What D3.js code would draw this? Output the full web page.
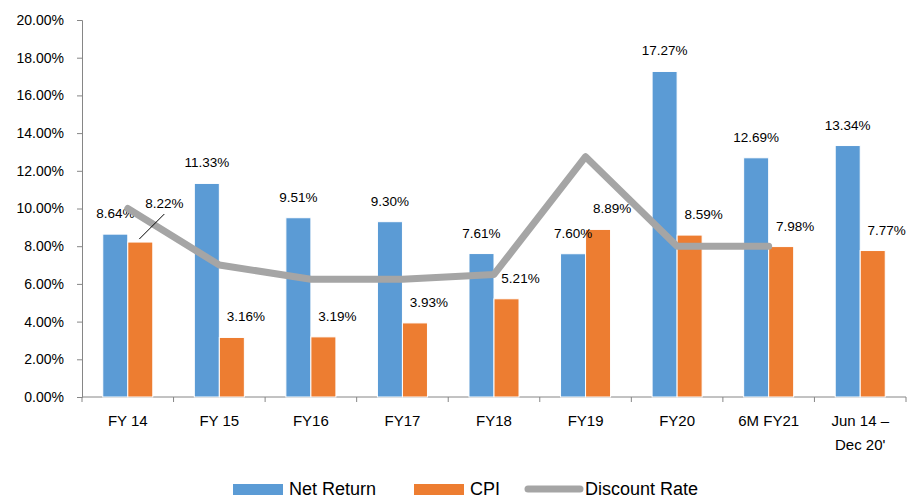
<!DOCTYPE html>
<html>
<head>
<meta charset="utf-8">
<script src="https://cdn.jsdelivr.net/npm/d3@7"></script>
<style>
  body { margin: 0; background: #fff; }
  svg { font-family: 'Liberation Sans', Arial, sans-serif; }
</style>
</head>
<body>
<div id="chart"></div>
<script>
// chart data
const categories = ['FY 14', 'FY 15', 'FY16', 'FY17', 'FY18', 'FY19', 'FY20', '6M FY21', 'Jun 14 –\nDec 20\''];
const netReturn = [8.64, 11.33, 9.51, 9.30, 7.61, 7.60, 17.27, 12.69, 13.34];
const cpi = [8.22, 3.16, 3.19, 3.93, 5.21, 8.89, 8.59, 7.98, 7.77];
const discountRate = [10.0, 7.0, 6.25, 6.25, 6.5, 12.75, 8.0, 8.0];
const yTicks = [0, 2, 4, 6, 8, 10, 12, 14, 16, 18, 20];
const seriesNames = ['Net Return', 'CPI', 'Discount Rate'];

const colors = {'Net Return': '#5B9BD5', 'CPI': '#ED7D31', 'Discount Rate': '#A5A5A5'};

const outerWidth = 916, outerHeight = 499;
const margin = {top: 20, right: 10, bottom: 102, left: 82};
const width = outerWidth - margin.left - margin.right;
const height = outerHeight - margin.top - margin.bottom;

const svg = d3.select('#chart')
  .append('svg')
  .attr('width', outerWidth)
  .attr('height', outerHeight);

const g = svg.append('g')
  .attr('transform', 'translate(' + margin.left + ',' + margin.top + ')');

const x0 = d3.scaleBand()
  .domain(categories)
  .range([0, width])
  .padding(0);

const x1 = d3.scaleBand()
  .domain(['Net Return', 'CPI'])
  .range([0, x0.bandwidth()])
  .paddingInner(0)
  .paddingOuter(0.83);

const y = d3.scaleLinear()
  .domain([0, 20])
  .range([height, 0]);

// y axis
const yAxis = g.append('g')
  .call(d3.axisLeft(y).tickValues(yTicks).tickSize(5).tickFormat(d => d.toFixed(2) + '%'));
yAxis.select('.domain').attr('stroke', '#868686');
yAxis.selectAll('.tick line').attr('stroke', '#868686');
yAxis.selectAll('.tick text')
  .attr('x', -18)
  .attr('font-size', '14px')
  .attr('fill', '#000')
  .attr('font-family', 'Liberation Sans, Arial, sans-serif');

// x axis, ticks at category boundaries
const xAxis = g.append('g')
  .attr('transform', 'translate(0,' + height + ')');
xAxis.append('line')
  .attr('x1', 0).attr('x2', width)
  .attr('stroke', '#868686');
xAxis.selectAll('.xtick')
  .data(d3.range(categories.length + 1))
  .enter()
  .append('line')
  .attr('x1', i => i * x0.step())
  .attr('x2', i => i * x0.step())
  .attr('y1', 0).attr('y2', 5)
  .attr('stroke', '#868686');
xAxis.selectAll('.xlabel')
  .data(categories)
  .enter()
  .append('text')
  .attr('text-anchor', 'middle')
  .attr('font-size', '15px')
  .attr('fill', '#000')
  .each(function(d) {
    const lines = d.split('\n');
    const t = d3.select(this);
    lines.forEach((line, i) => {
      t.append('tspan')
        .attr('x', x0(d) + x0.bandwidth() / 2)
        .attr('y', 29 + i * 24)
        .text(line);
    });
  });

// bars
const barData = categories.map((c, i) => ({
  category: c,
  values: [
    {key: 'Net Return', value: netReturn[i]},
    {key: 'CPI', value: cpi[i]}
  ]
}));

const groups = g.append('g')
  .selectAll('g')
  .data(barData)
  .enter()
  .append('g')
  .attr('transform', d => 'translate(' + x0(d.category) + ',0)');

groups.selectAll('rect')
  .data(d => d.values)
  .enter()
  .append('rect')
  .attr('x', d => x1(d.key))
  .attr('y', d => y(d.value))
  .attr('width', x1.bandwidth())
  .attr('height', d => height - y(d.value))
  .attr('fill', d => colors[d.key])
  .attr('stroke', '#fff')
  .attr('stroke-width', 1);

// discount rate line
const line = d3.line()
  .x((d, i) => x0(categories[i]) + x0.bandwidth() / 2)
  .y(d => y(d));

g.append('path')
  .datum(discountRate)
  .attr('fill', 'none')
  .attr('stroke', colors['Discount Rate'])
  .attr('stroke-width', 7)
  .attr('stroke-linejoin', 'round')
  .attr('stroke-linecap', 'round')
  .attr('d', line);

// data labels
groups.selectAll('text.label')
  .data(d => d.values.map(v => Object.assign({category: d.category}, v)))
  .enter()
  .append('text')
  .attr('class', 'label')
  .attr('text-anchor', 'middle')
  .attr('font-size', '13.5px')
  .attr('fill', '#000')
  .attr('x', d => {
    const cx = x1(d.key) + x1.bandwidth() / 2;
    if (d.category === categories[0]) return d.key === 'CPI' ? cx + 24 : cx;
    return d.key === 'CPI' ? cx + 14 : cx;
  })
  .attr('y', d => {
    const top = y(d.value);
    if (d.category === categories[0] && d.key === 'CPI') return top - 34;
    return top - 16;
  })
  .text(d => d.value.toFixed(2) + '%');

// leader line for first CPI label
const firstCpiX = x0(categories[0]) + x1('CPI') + x1.bandwidth() / 2;
g.append('line')
  .attr('x1', firstCpiX - 1)
  .attr('y1', y(cpi[0]) - 3)
  .attr('x2', firstCpiX + 24)
  .attr('y2', y(cpi[0]) - 28)
  .attr('stroke', '#000')
  .attr('stroke-width', 1);

// legend
const legend = svg.append('g')
  .attr('transform', 'translate(0,' + 489 + ')');
const legendItems = [
  {name: seriesNames[0], x: 233, type: 'rect'},
  {name: seriesNames[1], x: 414, type: 'rect'},
  {name: seriesNames[2], x: 525, type: 'line'}
];
legendItems.forEach(item => {
  if (item.type === 'rect') {
    legend.append('rect')
      .attr('x', item.x).attr('y', -5)
      .attr('width', 50).attr('height', 11)
      .attr('fill', colors[item.name]);
  } else {
    legend.append('line')
      .attr('x1', item.x + 3).attr('x2', item.x + 55)
      .attr('y1', 0).attr('y2', 0)
      .attr('stroke', colors[item.name])
      .attr('stroke-width', 7)
      .attr('stroke-linecap', 'round');
  }
  legend.append('text')
    .attr('x', item.x + (item.type === 'rect' ? 56 : 60))
    .attr('y', 6)
    .attr('font-size', '18px')
    .attr('fill', '#000')
    .text(item.name);
});
</script>
</body>
</html>
